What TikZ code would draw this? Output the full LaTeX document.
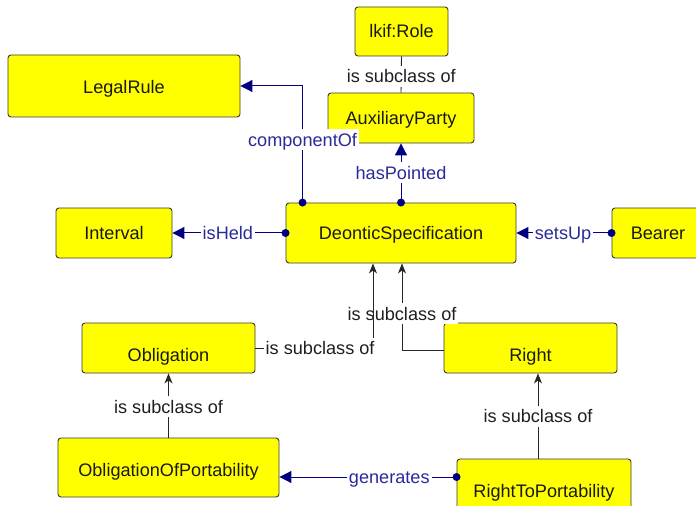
\documentclass[tikz,border=0pt]{standalone}
\usepackage{fontspec}
\setmainfont{Liberation Sans}
\usetikzlibrary{arrows.meta}
\definecolor{boxyellow}{HTML}{FFFF00}
\definecolor{navyline}{HTML}{000080}
\definecolor{lblblue}{HTML}{2A2A9A}
\definecolor{boxborder}{HTML}{3A3A3A}
\begin{document}
\begin{tikzpicture}[x=1bp,y=-1bp,
  box/.style={draw=boxborder, fill=boxyellow, rounded corners=3bp, line width=0.9bp,
    font=\fontsize{18.2}{21}\selectfont, text=black!90, inner sep=0pt,
    text height=13bp, text depth=0pt},
  boxtext/.style={font=\fontsize{18.2}{21}\selectfont, text=black!90, inner sep=0pt,
    text height=13bp, text depth=0pt},
  rel/.style={draw=navyline, line width=1bp, -{Triangle[length=12bp,width=12bp]}},
  sub/.style={draw=black!85, line width=0.9bp, -{Stealth[length=10bp,width=8bp,inset=3bp]}},
  plainsub/.style={draw=black!85, line width=0.9bp},
  rlabel/.style={fill=white, text=lblblue, inner xsep=2bp, inner ysep=4bp, font=\fontsize{18.2}{21}\selectfont,
    text height=13bp, text depth=0pt},
  slabel/.style={fill=white, text=black!88, inner xsep=2bp, inner ysep=4bp, font=\fontsize{18.2}{21}\selectfont,
    text height=13bp, text depth=0pt},
  startdot/.style={fill=navyline},
]
\useasboundingbox (0,0) rectangle (696,506);
\fill[white] (0,0) rectangle (696,506);

% nodes
\node[box, minimum width=93bp, minimum height=49bp] (role) at (401.5,31.5) {lkif:Role};
\node[box, minimum width=146bp, minimum height=50bp] (aux) at (401,118) {AuxiliaryParty};
\node[box, minimum width=232bp, minimum height=62bp,
  label={[boxtext, yshift=-1.5bp]center:LegalRule}] (legal) at (124,86) {};
\node[box, minimum width=230bp, minimum height=60bp] (deo) at (401,233) {DeonticSpecification};
\node[box, minimum width=116bp, minimum height=50bp] (interval) at (114,233) {Interval};
\node[box, minimum width=92bp, minimum height=50bp] (bearer) at (658,233) {Bearer};
\node[box, minimum width=173bp, minimum height=50bp,
  label={[boxtext, yshift=-6.5bp]center:Obligation}] (obl) at (168.5,348) {};
\node[box, minimum width=173bp, minimum height=50bp,
  label={[boxtext, yshift=-6.5bp]center:Right}] (right) at (530.5,348) {};
\node[box, minimum width=174bp, minimum height=62bp,
  label={[boxtext, yshift=-0.5bp]center:RightToPortability}] (r2p) at (544,490) {};
\node[box, minimum width=221bp, minimum height=59bp,
  label={[boxtext, yshift=-2bp]center:ObligationOfPortability}] (oop) at (168.5,467.5) {};

% coordinates for connector ends
\coordinate (cstart) at ([xshift=17bp]deo.north west);
\coordinate (ostop) at ([xshift=-28bp]deo.south);
\coordinate (rstop) at ([xshift=1bp]deo.south);
\coordinate (rstart) at ([yshift=-2bp]right.west);
\coordinate (pstart) at ([xshift=-6bp]r2p.north);
\coordinate (gstart) at ([yshift=13bp]r2p.west);

% lkif:Role -- AuxiliaryParty
\draw[plainsub] (role.south) -- node[slabel, pos=0.55] {is subclass of} (aux.north);

% componentOf
\draw[rel] (cstart) |- node[rlabel, pos=0.27] {componentOf} (legal.east);
\fill[startdot] (cstart) circle (4bp);

% hasPointed
\draw[rel] (deo.north) -- node[rlabel, pos=0.5] {hasPointed} (aux.south);
\fill[startdot] (deo.north) circle (4bp);

% isHeld
\draw[rel] (deo.west) -- node[rlabel, pos=0.51] {isHeld} (interval.east);
\fill[startdot] (deo.west) circle (4bp);

% setsUp
\draw[rel] (bearer.west) -- node[rlabel, pos=0.51] {setsUp} (deo.east);
\fill[startdot] (bearer.west) circle (4bp);

% Right -> DeonticSpecification
\draw[sub] (rstart) -| node[slabel, pos=0.71] {is subclass of} (rstop);

% Obligation -> DeonticSpecification
\draw[sub] (obl.east) -| node[slabel, pos=0.275] {is subclass of} (ostop);

% RightToPortability -> Right
\draw[sub] (pstart) -- node[slabel, pos=0.5] {is subclass of} (pstart |- right.south);

% ObligationOfPortability -> Obligation
\draw[sub] (oop.north) -- node[slabel, pos=0.48] {is subclass of} (obl.south);

% generates
\draw[rel] (gstart) -- node[rlabel, pos=0.38] {generates} (gstart -| oop.east);
\fill[startdot] (gstart) circle (4bp);
\end{tikzpicture}
\end{document}
